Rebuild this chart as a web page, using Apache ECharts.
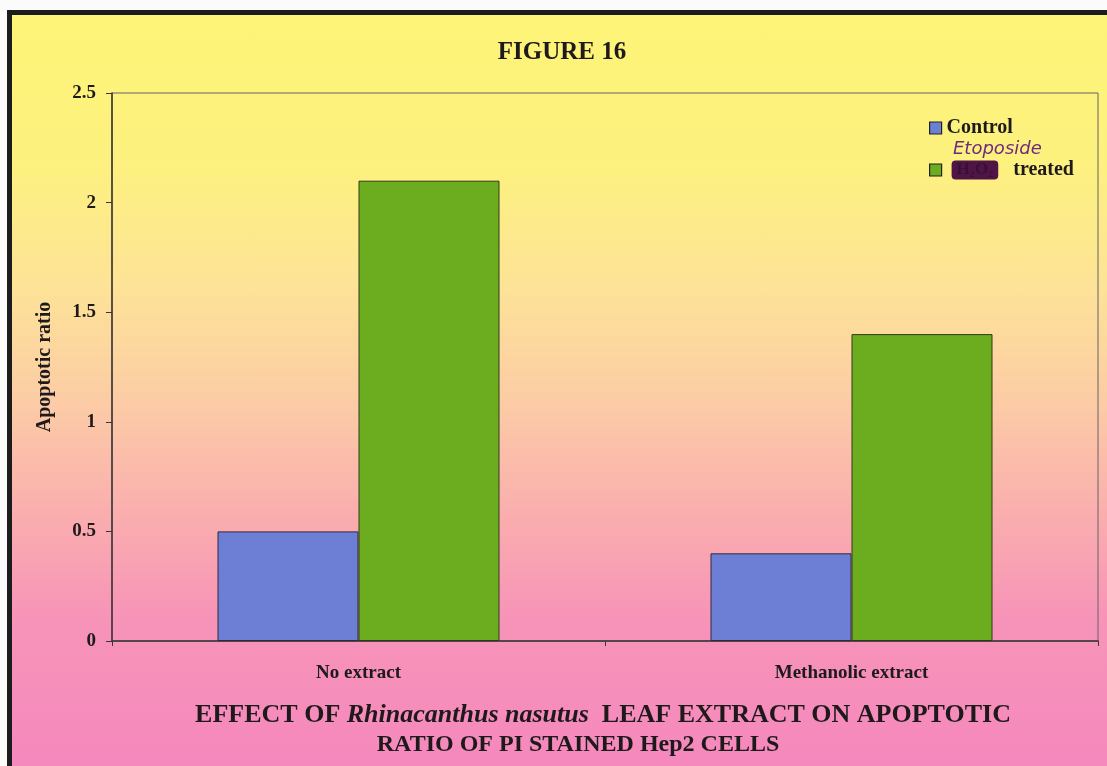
<!DOCTYPE html>
<html>
<head>
<meta charset="utf-8">
<script src="https://cdn.jsdelivr.net/npm/echarts@6/dist/echarts.min.js"></script>
<style>
  html, body { margin: 0; padding: 0; background: #fbfbfb; }
  #frame {
    position: absolute; left: 7px; top: 10px; width: 1100px; height: 756px;
    border-top: 5px solid #1c1c1c; border-left: 5px solid #1c1c1c;
    box-sizing: border-box;
    background: linear-gradient(to bottom,
      #fef477 0%, #fdf17f 20%, #fde397 36%, #fccba6 52%,
      #faafae 66%, #f794b8 80%, #f588bd 100%);
  }
  #chart { position: absolute; left: 0; top: 0; width: 1107px; height: 766px; }
</style>
</head>
<body>
<div id="frame"></div>
<div id="chart"></div>
<script>
// Apoptotic ratio of PI-stained Hep2 cells, with and without leaf extract
const categories = ['No extract', 'Methanolic extract'];
const controlValues = [0.5, 0.4];
const etoposideValues = [2.1, 1.4];
const yTicks = [0, 0.5, 1, 1.5, 2, 2.5];

const serif = 'Liberation Serif';
const ink = '#1e1a1c';

const chart = echarts.init(document.getElementById('chart'), null, { renderer: 'canvas' });

chart.setOption({
  animation: false,
  backgroundColor: 'transparent',
  title: [
    {
      text: 'FIGURE 16', left: 562, top: 40, textAlign: 'center', padding: 0,
      textStyle: { fontFamily: serif, fontWeight: 'bold', fontSize: 25, color: ink }
    },
    {
      text: '{b|EFFECT OF }{i|Rhinacanthus nasutus}{b|  LEAF EXTRACT ON APOPTOTIC}',
      left: 603, top: 702, textAlign: 'center', padding: 0,
      textStyle: {
        rich: {
          b: { fontFamily: serif, fontWeight: 'bold', fontSize: 26, color: ink },
          i: { fontFamily: serif, fontWeight: 'bold', fontStyle: 'italic', fontSize: 26, color: ink }
        }
      }
    },
    {
      text: 'RATIO OF PI STAINED Hep2 CELLS',
      left: 578, top: 733, textAlign: 'center', padding: 0,
      textStyle: { fontFamily: serif, fontWeight: 'bold', fontSize: 24, color: ink }
    }
  ],
  legend: {
    orient: 'vertical',
    left: 929, top: 117,
    itemWidth: 12, itemHeight: 12, itemGap: 20, itemTextGap: 10,
    padding: 0,
    icon: 'rect',
    itemStyle: { borderColor: '#222', borderWidth: 1.2 },
    textStyle: {
      fontFamily: serif, fontWeight: 'bold', fontSize: 20, color: ink, lineHeight: 22,
      rich: {
        blot: {
          fontFamily: serif, fontWeight: 'bold', fontSize: 17, color: '#3a0f34',
          backgroundColor: '#4e1546', borderRadius: 4, padding: [1, 5], lineHeight: 22
        },
        t: { fontFamily: serif, fontWeight: 'bold', fontSize: 20, color: ink, lineHeight: 22 }
      }
    },
    formatter: name => name === 'Control' ? name : '{t| }{blot|H₂O₂}{t|   treated}',
    data: ['Control', 'Etoposide treated']
  },
  graphic: [
    {
      type: 'text', left: 953, top: 140,
      style: {
        text: 'Etoposide',
        fontFamily: 'DejaVu Sans', fontStyle: 'italic', fontSize: 18,
        fill: '#6e2a7e'
      }
    }
  ],
  grid: {
    left: 112, right: 9, top: 93, bottom: 125,
    show: true, borderColor: '#6a6266', borderWidth: 1, backgroundColor: 'transparent'
  },
  xAxis: {
    type: 'category',
    data: categories,
    axisLine: { lineStyle: { color: '#3a3438', width: 1.5 } },
    axisTick: { show: true, length: 5, lineStyle: { color: '#3a3438' } },
    axisLabel: { margin: 23, fontFamily: serif, fontWeight: 'bold', fontSize: 19, color: ink }
  },
  yAxis: {
    type: 'value',
    min: yTicks[0], max: yTicks[yTicks.length - 1], interval: 0.5,
    name: 'Apoptotic ratio',
    nameLocation: 'middle', nameGap: 57,
    nameTextStyle: { fontFamily: serif, fontWeight: 'bold', fontSize: 20, color: ink },
    axisLine: { show: true, lineStyle: { color: '#3a3438', width: 1.5 } },
    axisTick: { show: true, length: 6, lineStyle: { color: '#3a3438' } },
    splitLine: { show: false },
    axisLabel: { margin: 16, fontFamily: serif, fontWeight: 'bold', fontSize: 19, color: ink }
  },
  series: [
    {
      name: 'Control', type: 'bar', data: controlValues,
      barWidth: 141, barGap: '0%',
      itemStyle: { color: '#6d7fd5', borderColor: '#2e2a3a', borderWidth: 1 }
    },
    {
      name: 'Etoposide treated', type: 'bar', data: etoposideValues,
      barWidth: 141, barGap: '0%',
      itemStyle: { color: '#6cac1f', borderColor: '#2e3a1a', borderWidth: 1 }
    }
  ]
});
</script>
</body>
</html>
